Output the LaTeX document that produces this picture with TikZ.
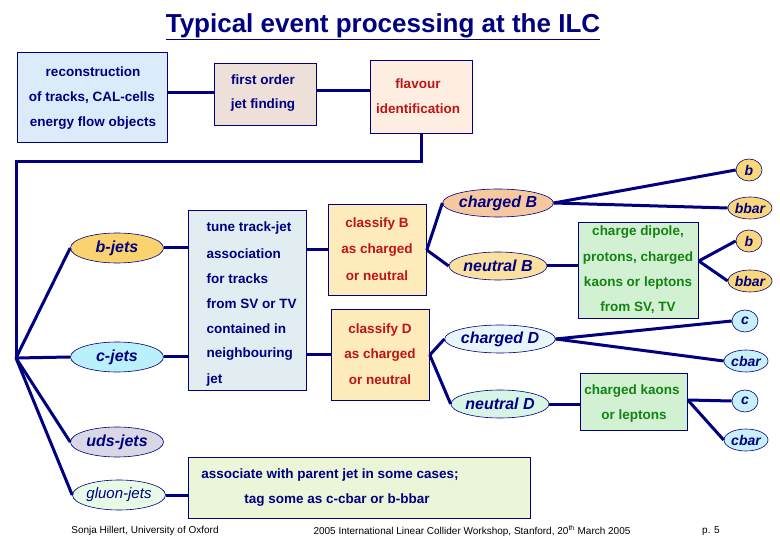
\documentclass[tikz,border=0pt]{standalone}
\usepackage{fontspec}
\setmainfont{Liberation Sans}
\usetikzlibrary{shapes.geometric}
\definecolor{navy}{RGB}{0,0,128}
\definecolor{tred}{RGB}{190,20,20}
\definecolor{tgreen}{RGB}{20,130,20}
\begin{document}
\begin{tikzpicture}[x=1pt,y=-1pt,
 box/.style={draw=navy,line width=0.8pt,anchor=north west,inner sep=0pt},
 ell/.style={ellipse,draw=navy,line width=0.6pt,inner sep=0pt,minimum height=30,font=\fontsize{16}{18}\selectfont\bfseries\itshape,text=navy},
 sm/.style={ellipse,draw=navy,line width=0.6pt,inner sep=0pt,minimum height=22,font=\fontsize{14}{15}\selectfont\bfseries\itshape,text=navy},
 con/.style={draw=navy,line width=3pt},
 t/.style={font=\fontsize{13.5}{15}\selectfont\bfseries,text=navy}]
\useasboundingbox (0,0) rectangle (780,540);
\fill[white] (0,0) rectangle (780,540);
% title
\node[font=\fontsize{26}{30}\selectfont\bfseries,text=navy] (title) at (383,27) {\underline{Typical event processing at the ILC}};
% top boxes
\node[box,fill={rgb,255:red,220;green,235;blue,250},minimum width=150,minimum height=90] (reco) at (17,52) {};
\node[t] at (93,72) {reconstruction};
\node[t] at (92,98) {of tracks, CAL-cells};
\node[t] at (93,123) {energy flow objects};
\node[box,fill={rgb,255:red,237;green,224;blue,217},minimum width=102,minimum height=62] (first) at (214,63) {};
\node[t] at (263,80) {first order};
\node[t] at (263,105) {jet finding};
\node[box,fill={rgb,255:red,253;green,238;blue,225},minimum width=102,minimum height=73] (flav) at (370,60) {};
\node[t,text=tred] at (418,84) {flavour};
\node[t,text=tred] at (418,109) {identification};
\draw[con] (reco.east |- 0,93) -- (first.west |- 0,93);
\draw[con] (first.east |- 0,91) -- (flav.west |- 0,91);
\coordinate (c1) at (16,162);
\coordinate (hub) at (16,358);
\draw[con] (flav.south -| 421,0) |- (c1) -- (hub);
% jets
\node[ell,fill={rgb,255:red,250;green,210;blue,110},minimum width=93] (bj) at (117,248) {b-jets};
\node[ell,fill={rgb,255:red,185;green,240;blue,250},minimum width=93] (cj) at (117,357) {c-jets};
\node[ell,fill={rgb,255:red,215;green,215;blue,230},minimum width=93] (uj) at (117,442) {uds-jets};
\node[ell,fill={rgb,255:red,230;green,250;blue,230},minimum width=93,font=\fontsize{15}{17}\selectfont\itshape] (gj) at (119,495) {gluon-jets};
\draw[con] (hub) -- (bj.west);
\draw[con] (hub) -- (cj.west);
\draw[con] (hub) -- (uj.west);
\draw[con] (hub) -- (gj.west);
% tune box
\node[box,fill={rgb,255:red,225;green,237;blue,240},minimum width=118,minimum height=180] (tune) at (188,210) {};
\foreach \y/\s in {228/tune track-jet,254/association,279/for tracks,304/from SV or TV,329/contained in,354/neighbouring,380/jet}
  \node[t,anchor=west] at (203,\y) {\s};
\node[box,fill={rgb,255:red,253;green,235;blue,185},minimum width=98,minimum height=91] (clB) at (328,204) {};
\node[t,text=tred] at (377,224) {classify B};
\node[t,text=tred] at (377,250) {as charged};
\node[t,text=tred] at (377,276) {or neutral};
\node[box,fill={rgb,255:red,253;green,235;blue,185},minimum width=98,minimum height=91] (clD) at (331,309) {};
\node[t,text=tred] at (380,330) {classify D};
\node[t,text=tred] at (380,355) {as charged};
\node[t,text=tred] at (380,380) {or neutral};
\draw[con] (bj.east) -- (tune.west |- bj.east);
\draw[con] (tune.east |- 0,250) -- (clB.west |- 0,250);
\draw[con] (cj.east) -- (tune.west |- cj.east);
\draw[con] (tune.east |- 0,355) -- (clD.west |- 0,355);
% gluon box
\node[box,fill={rgb,255:red,235;green,245;blue,215},minimum width=342,minimum height=61] (gl) at (188,457) {};
\node[t] at (330,475) {associate with parent jet in some cases;};
\node[t] at (337,500) {tag some as c-cbar or b-bbar};
\draw[con] (gj.east) -- (gl.west |- gj.east);
% hadrons
\node[ell,fill={rgb,255:red,245;green,200;blue,160},minimum width=92,minimum height=28] (chB) at (498,203) {charged B};
\node[ell,fill={rgb,255:red,250;green,225;blue,160},minimum width=92,minimum height=28] (nB) at (498,266) {neutral B};
\node[ell,fill={rgb,255:red,232;green,246;blue,250},minimum width=92,minimum height=28] (chD) at (500,339) {charged D};
\node[ell,fill={rgb,255:red,215;green,245;blue,230},minimum width=92,minimum height=28] (nD) at (500,404) {neutral D};
\draw[con] (clB.east |- 0,250) -- (chB.west);
\draw[con] (clB.east |- 0,250) -- (nB.west);
\draw[con] (clD.east |- 0,355) -- (chD.west);
\draw[con] (clD.east |- 0,355) -- (nD.west);
\node[box,fill={rgb,255:red,210;green,240;blue,210},minimum width=120,minimum height=96] (dip) at (578,222) {};
\foreach \y/\s in {232/{charge dipole,},258/{protons, charged},283/{kaons or leptons},308/{from SV, TV}}
  \node[t,text=tgreen] at (638,\y) {\s};
\node[box,fill={rgb,255:red,210;green,240;blue,210},minimum width=107,minimum height=57] (ka) at (580,373) {};
\node[t,text=tgreen] at (632,391) {charged kaons};
\node[t,text=tgreen] at (634,416) {or leptons};
\draw[con] (nB.east) -- (dip.west |- nB.east);
\draw[con] (nD.east) -- (ka.west |- nD.east);
% quarks
\node[sm,fill={rgb,255:red,250;green,215;blue,120},minimum width=26] (q1) at (749,170) {b};
\node[sm,fill={rgb,255:red,250;green,215;blue,120},minimum width=44] (q2) at (750,208) {bbar};
\node[sm,fill={rgb,255:red,250;green,215;blue,120},minimum width=26] (q3) at (749,241) {b};
\node[sm,fill={rgb,255:red,250;green,215;blue,120},minimum width=44] (q4) at (750,281) {bbar};
\node[sm,fill={rgb,255:red,200;green,240;blue,250},minimum width=26] (q5) at (745,321) {c};
\node[sm,fill={rgb,255:red,200;green,240;blue,250},minimum width=44] (q6) at (746,361) {cbar};
\node[sm,fill={rgb,255:red,200;green,240;blue,250},minimum width=26] (q7) at (745,401) {c};
\node[sm,fill={rgb,255:red,200;green,240;blue,250},minimum width=44] (q8) at (746,440) {cbar};
\draw[con] (chB.east) -- (q1.west);
\draw[con] (chB.east) -- (q2.west);
\draw[con] (dip.east |- 0,261) -- (q3.west);
\draw[con] (dip.east |- 0,261) -- (q4.west);
\draw[con] (chD.east) -- (q5.west);
\draw[con] (chD.east) -- (q6.west);
\draw[con] (ka.east |- 0,400) -- (q7.west);
\draw[con] (ka.east |- 0,400) -- (q8.west);
% footer
\node[font=\fontsize{10}{11}\selectfont] (f1) at (145,531) {Sonja Hillert, University of Oxford};
\node[font=\fontsize{10}{11}\selectfont] (f2) at (472,531) {2005 International Linear Collider Workshop, Stanford, 20\textsuperscript{th} March 2005};
\node[font=\fontsize{10}{11}\selectfont] (f3) at (711,531) {p. 5};
\end{tikzpicture}
\end{document}
